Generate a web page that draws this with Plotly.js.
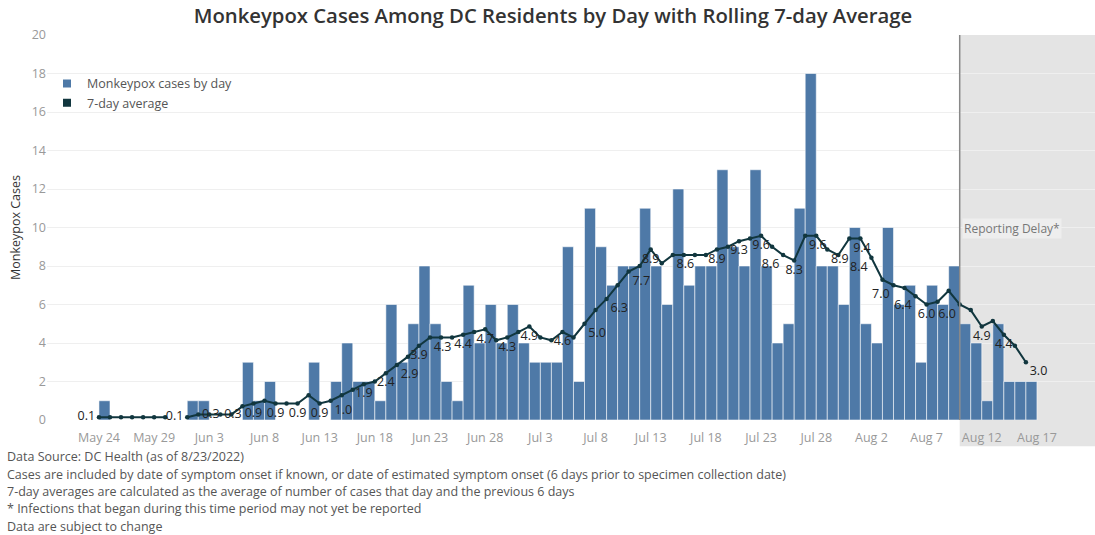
<!DOCTYPE html>
<html>
<head>
<meta charset="utf-8">
<script src="https://cdn.plot.ly/plotly-3.0.1.min.js"></script>
<style>
  html, body { margin: 0; padding: 0; background: #fff; }
  #chart { width: 1095px; height: 535px; }
</style>
</head>
<body>
<div id="chart"></div>
<script>
// ---------- DATA ----------
const dates = [
  '2022-05-24','2022-05-25','2022-05-26','2022-05-27','2022-05-28','2022-05-29','2022-05-30','2022-05-31',
  '2022-06-01','2022-06-02','2022-06-03','2022-06-04','2022-06-05','2022-06-06','2022-06-07','2022-06-08',
  '2022-06-09','2022-06-10','2022-06-11','2022-06-12','2022-06-13','2022-06-14','2022-06-15','2022-06-16',
  '2022-06-17','2022-06-18','2022-06-19','2022-06-20','2022-06-21','2022-06-22','2022-06-23','2022-06-24',
  '2022-06-25','2022-06-26','2022-06-27','2022-06-28','2022-06-29','2022-06-30','2022-07-01','2022-07-02',
  '2022-07-03','2022-07-04','2022-07-05','2022-07-06','2022-07-07','2022-07-08','2022-07-09','2022-07-10',
  '2022-07-11','2022-07-12','2022-07-13','2022-07-14','2022-07-15','2022-07-16','2022-07-17','2022-07-18',
  '2022-07-19','2022-07-20','2022-07-21','2022-07-22','2022-07-23','2022-07-24','2022-07-25','2022-07-26',
  '2022-07-27','2022-07-28','2022-07-29','2022-07-30','2022-07-31','2022-08-01','2022-08-02','2022-08-03',
  '2022-08-04','2022-08-05','2022-08-06','2022-08-07','2022-08-08','2022-08-09','2022-08-10','2022-08-11',
  '2022-08-12','2022-08-13','2022-08-14','2022-08-15','2022-08-16'
];

const dailyCases = [
  1,0,0,0,0,0,0,0,
  1,1,0,0,0,3,1,2,
  0,0,0,3,0,2,4,2,
  2,1,6,3,5,8,5,2,
  1,7,4,6,4,6,4,3,
  3,3,9,2,11,9,7,8,
  8,11,8,6,12,7,8,8,
  13,9,8,13,8,4,5,11,
  18,8,8,6,10,5,4,10,
  6,7,3,7,6,8,5,4,
  1,5,2,2,2
];

const rollingAvg = [
  0.14,0.14,0.14,0.14,0.14,0.14,0.14,null,
  0.14,0.29,0.29,0.29,0.29,0.71,0.86,1.00,
  0.86,0.86,0.86,1.29,0.86,1.00,1.29,1.57,
  1.86,2.00,2.43,2.86,3.29,3.86,4.29,4.29,
  4.29,4.43,4.57,4.71,4.14,4.29,4.57,4.86,
  4.29,4.14,4.57,4.29,5.00,5.71,6.29,7.00,
  7.71,8.00,8.86,8.14,8.57,8.57,8.57,8.57,
  8.86,9.00,9.29,9.43,9.57,9.00,8.57,8.29,
  9.57,9.57,8.86,8.57,9.43,9.43,8.43,7.29,
  7.00,6.86,6.43,6.00,6.14,6.71,6.00,5.71,
  4.86,5.14,4.43,3.86,3.00
];

// points of the average line that carry a value label in the reference
const labeledDates = [
  '2022-05-24','2022-06-01','2022-06-02','2022-06-04','2022-06-07','2022-06-09','2022-06-11','2022-06-13',
  '2022-06-14','2022-06-17','2022-06-19','2022-06-20','2022-06-22','2022-06-23','2022-06-26','2022-06-28',
  '2022-06-30','2022-07-02','2022-07-05','2022-07-07','2022-07-09','2022-07-11','2022-07-13','2022-07-15',
  '2022-07-19','2022-07-21','2022-07-23','2022-07-25','2022-07-26','2022-07-27','2022-07-29','2022-07-31',
  '2022-08-02','2022-08-04','2022-08-06','2022-08-07','2022-08-10','2022-08-12','2022-08-14','2022-08-16'
];

const seriesNames = ['Monkeypox cases by day', '7-day average'];
const yTicks = [0,2,4,6,8,10,12,14,16,18,20];
const reportingDelayStart = '2022-08-10';
const footnotes = [
  'Data Source: DC Health (as of 8/23/2022)',
  'Cases are included by date of symptom onset if known, or date of estimated symptom onset (6 days prior to specimen collection date)',
  '7-day averages are calculated as the average of number of cases that day and the previous 6 days',
  '* Infections that began during this time period may not yet be reported',
  'Data are subject to change'
];

// ---------- STYLE ----------
const BAR_COLOR = '#4e79a7';
const LINE_COLOR = '#11363e';
const FONT = 'Open Sans, Lato, sans-serif';

const leftDates = ['2022-05-24','2022-06-01'];
const rightDates = ['2022-06-02','2022-06-04'];
const brDates = ['2022-06-14','2022-06-20','2022-06-23','2022-07-07','2022-07-09','2022-07-11','2022-07-15',
                 '2022-07-27','2022-07-29','2022-07-31','2022-08-16'];
const blDates = ['2022-07-25','2022-08-02','2022-08-04','2022-08-06','2022-08-10'];

const avgText = dates.map((d, i) =>
  labeledDates.includes(d) && rollingAvg[i] !== null ? rollingAvg[i].toFixed(1) : '');
const avgTextPos = dates.map(d => {
  if (leftDates.includes(d)) return 'middle left';
  if (rightDates.includes(d)) return 'middle right';
  if (brDates.includes(d)) return 'bottom right';
  if (blDates.includes(d)) return 'bottom left';
  return 'bottom center';
});

const traces = [
  {
    type: 'bar',
    x: dates,
    y: dailyCases,
    xperiod: 86400000,
    xperiodalignment: 'middle',
    marker: { color: BAR_COLOR, line: { color: 'rgba(255,255,255,0.55)', width: 1 } },
    showlegend: false,
    hoverinfo: 'x+y'
  },
  {
    type: 'scatter',
    mode: 'lines+markers+text',
    x: dates,
    y: rollingAvg,
    connectgaps: false,
    line: { color: LINE_COLOR, width: 2 },
    marker: { color: LINE_COLOR, size: 4.5 },
    text: avgText,
    textposition: avgTextPos,
    textfont: { family: FONT, size: 12.5, color: '#222' },
    cliponaxis: false,
    showlegend: false
  },
  {
    type: 'scatter', mode: 'markers', x: [null], y: [null],
    name: seriesNames[0],
    marker: { symbol: 'square', size: 8, color: BAR_COLOR }
  },
  {
    type: 'scatter', mode: 'markers', x: [null], y: [null],
    name: seriesNames[1],
    marker: { symbol: 'square', size: 8, color: LINE_COLOR }
  }
];

const annotations = footnotes.map((t, k) => ({
  text: t,
  xref: 'paper', yref: 'paper',
  x: -0.0401, xanchor: 'left',
  y: (420 - (457 + k * 17.3)) / 385, yanchor: 'middle',
  showarrow: false,
  font: { family: FONT, size: 12.5, color: '#555' }
}));
annotations.push({
  text: 'Reporting Delay*',
  xref: 'x', yref: 'paper',
  x: reportingDelayStart, xanchor: 'left', xshift: 2,
  y: (420 - 228) / 385, yanchor: 'middle',
  showarrow: false,
  bgcolor: '#eeeeee',
  borderpad: 1,
  font: { family: FONT, size: 12, color: '#777' }
});

const layout = {
  width: 1095, height: 535,
  margin: { l: 47, r: 0, t: 35, b: 115 },
  paper_bgcolor: '#ffffff',
  plot_bgcolor: '#ffffff',
  font: { family: FONT, color: '#555' },
  title: {
    text: 'Monkeypox Cases Among DC Residents by Day with Rolling 7-day Average',
    font: { family: FONT, size: 20.3, color: '#333', weight: 600 },
    xref: 'container', x: 0.505, xanchor: 'center',
    yref: 'container', y: 0.970, yanchor: 'middle'
  },
  bargap: 0,
  barmode: 'overlay',
  xaxis: {
    type: 'date',
    range: ['2022-05-19 07:00', '2022-08-22 06:15'],
    tick0: '2022-05-24',
    dtick: 5 * 86400000,
    tickformat: '%b %-d',
    showgrid: false,
    zeroline: false,
    showline: false,
    ticks: '',
    ticklabelstandoff: 8,
    tickfont: { family: FONT, size: 12.5, color: '#999' }
  },
  yaxis: {
    range: [0, 20],
    tickvals: yTicks,
    showgrid: true,
    gridcolor: '#efefef',
    zeroline: false,
    showline: false,
    ticks: '',
    tickfont: { family: FONT, size: 12.5, color: '#999' },
    title: { text: 'Monkeypox Cases', font: { family: FONT, size: 12.5, color: '#333' }, standoff: 8 }
  },
  legend: {
    x: 0.0, xanchor: 'left',
    y: 0.912, yanchor: 'top',
    bgcolor: 'rgba(0,0,0,0)',
    font: { family: FONT, size: 12.5, color: '#555' },
    tracegroupgap: 0
  },
  shapes: [
    {
      type: 'rect', layer: 'between',
      xref: 'x', yref: 'paper',
      x0: reportingDelayStart, x1: '2022-08-30',
      y0: -0.068, y1: 1.0,
      fillcolor: '#e4e4e4', line: { width: 0 }
    },
    {
      type: 'line', layer: 'above',
      xref: 'x', yref: 'paper',
      x0: reportingDelayStart, x1: reportingDelayStart,
      y0: 0, y1: 1.0,
      line: { color: '#888', width: 1.5 }
    }
  ],
  annotations: annotations
};

Plotly.newPlot('chart', traces, layout, { displayModeBar: false, staticPlot: true });
</script>
</body>
</html>
